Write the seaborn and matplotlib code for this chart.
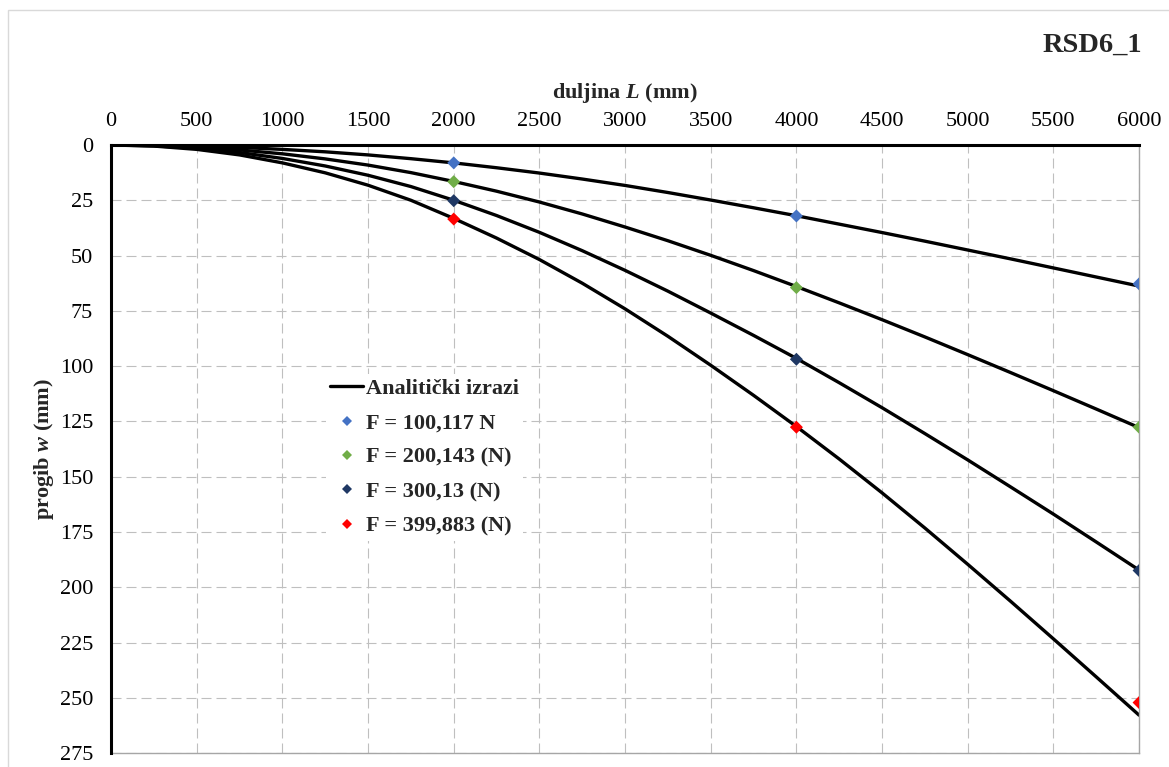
import matplotlib.pyplot as plt
import matplotlib.patches as mpatches
from matplotlib.lines import Line2D
import pandas as pd
import seaborn as sns

# beam length positions for the analytic curves (mm)
curve_x = [0, 250, 500, 750, 1000, 1250, 1500, 1750, 2000, 2250, 2500, 2750, 3000,
           3250, 3500, 3750, 4000, 4250, 4500, 4750, 5000, 5250, 5500, 5750, 6000]

# analytic deflection (mm)
w_f100 = [0, 0.1, 0.5, 1.1, 2.0, 3.1, 4.5, 6.2, 8.1, 10.3, 12.7, 15.4, 18.3,
          21.5, 24.9, 28.4, 32.0, 35.8, 39.6, 43.5, 47.5, 51.5, 55.6, 59.7, 63.8]
w_f200 = [0, 0.25, 1.0, 2.25, 4.0, 6.3, 9.1, 12.5, 16.5, 20.9, 25.8, 31.2, 37.1,
          43.3, 49.9, 56.8, 64.0, 71.4, 79.0, 86.8, 94.8, 102.9, 111.1, 119.4, 127.8]
w_f300 = [0, 0.38, 1.5, 3.4, 6.1, 9.5, 13.7, 18.8, 25.0, 31.9, 39.5, 47.8, 56.7,
          66.1, 76.0, 86.1, 96.5, 107.5, 118.8, 130.5, 142.4, 154.6, 166.9, 179.5, 192.2]
w_f400 = [0, 0.5, 2.0, 4.5, 8.1, 12.6, 18.2, 25.0, 33.2, 42.1, 51.8, 62.5, 74.1,
          86.5, 99.6, 113.2, 127.3, 142.0, 157.3, 173.2, 189.6, 206.3, 223.3, 240.5, 257.8]

# measured points
meas_x = [2000, 4000, 6000]
m_f100 = [8.1, 32.1, 62.8]
m_f200 = [16.6, 64.5, 127.6]
m_f300 = [25.2, 96.9, 192.4]
m_f400 = [33.5, 127.6, 252.1]

labels = ["F = 100,117 N", "F = 200,143 (N)", "F = 300,13 (N)", "F = 399,883 (N)"]
colors = ["#4472C4", "#70AD47", "#1F3864", "#FF0000"]

x_ticks = list(range(0, 6001, 500))
y_ticks = list(range(0, 276, 25))

curves = pd.DataFrame({
    "L": curve_x * 4,
    "w": w_f100 + w_f200 + w_f300 + w_f400,
    "series": [lab for lab in labels for _ in curve_x],
})
points = pd.DataFrame({
    "L": meas_x * 4,
    "w": m_f100 + m_f200 + m_f300 + m_f400,
    "series": [lab for lab in labels for _ in meas_x],
})

sns.set_theme(style="white")
plt.rcParams["font.family"] = ["Liberation Serif", "DejaVu Serif"]
plt.rcParams["mathtext.fontset"] = "custom"
plt.rcParams["mathtext.rm"] = "Liberation Serif:weight=bold"
plt.rcParams["mathtext.it"] = "Liberation Serif:style=italic:weight=bold"

fig = plt.figure(figsize=(11.69, 7.67), dpi=100)
ax = fig.add_axes([0.095, 0.018, 0.8794, 0.793])

sns.lineplot(data=curves, x="L", y="w", units="series", estimator=None,
             color="black", linewidth=2.4, sort=False, legend=False, ax=ax, zorder=2,
             solid_joinstyle="round")
sns.scatterplot(data=points, x="L", y="w", hue="series",
                palette=dict(zip(labels, colors)), marker="D", s=44,
                linewidth=0, legend=False, ax=ax, zorder=3)

ax.set_xlim(0, 6000)
ax.set_ylim(275, 0)
ax.set_xticks(x_ticks)
ax.set_yticks(y_ticks)
ax.xaxis.tick_top()
ax.xaxis.set_label_position("top")
ax.tick_params(axis="x", length=0, pad=10, labelsize=16, colors="black")
ax.tick_params(axis="y", length=0, pad=13, labelsize=16, colors="black")

ax.grid(True, color="#BFBFBF", linewidth=0.8, linestyle=(0, (9, 4.5)))
ax.set_axisbelow(True)

for side in ["left", "top"]:
    ax.spines[side].set_color("black")
    ax.spines[side].set_linewidth(2.2)
    ax.spines[side].set_zorder(4)
for side in ["right", "bottom"]:
    ax.spines[side].set_color("#A6A6A6")
    ax.spines[side].set_linewidth(1.0)

ax.set_xlabel(r"duljina $L$ (mm)", fontsize=16, fontweight="bold")
ax.set_ylabel(r"progib $w$ (mm)", fontsize=16, fontweight="bold")
ax.xaxis.set_label_coords(0.5, 1.077)
ax.yaxis.set_label_coords(-0.054, 0.5)

handles = [Line2D([], [], color="black", linewidth=2.4, label="Analitički izrazi")]
for lab, col in zip(labels, colors):
    handles.append(Line2D([], [], linestyle="none", marker="D", markersize=5.5,
                          color=col, markeredgewidth=0, label=lab))
leg = ax.legend(handles=handles, loc="upper left",
                bbox_to_anchor=(326 / 1169, 1 - 374 / 767),
                bbox_transform=fig.transFigure,
                prop={"family": "Liberation Serif", "weight": "bold", "size": 16},
                frameon=True, fancybox=False, framealpha=1, facecolor="white",
                edgecolor="none", borderpad=0.2, labelspacing=0.62,
                handlelength=1.45, handletextpad=0.15, borderaxespad=0)
leg.set_zorder(5)

fig.text(1142 / 1169, 1 - 45 / 767, "RSD6_1", ha="right", va="center",
         fontsize=20.5, fontweight="bold")

# light outer chart border (left and top edges visible)
fig.patches.append(mpatches.Rectangle((0.007, -0.1), 1.2, 1.087, transform=fig.transFigure,
                                      fill=False, edgecolor="#D9D9D9", linewidth=1.0))

fig.savefig("out.png", dpi=100)
plt.close(fig)
